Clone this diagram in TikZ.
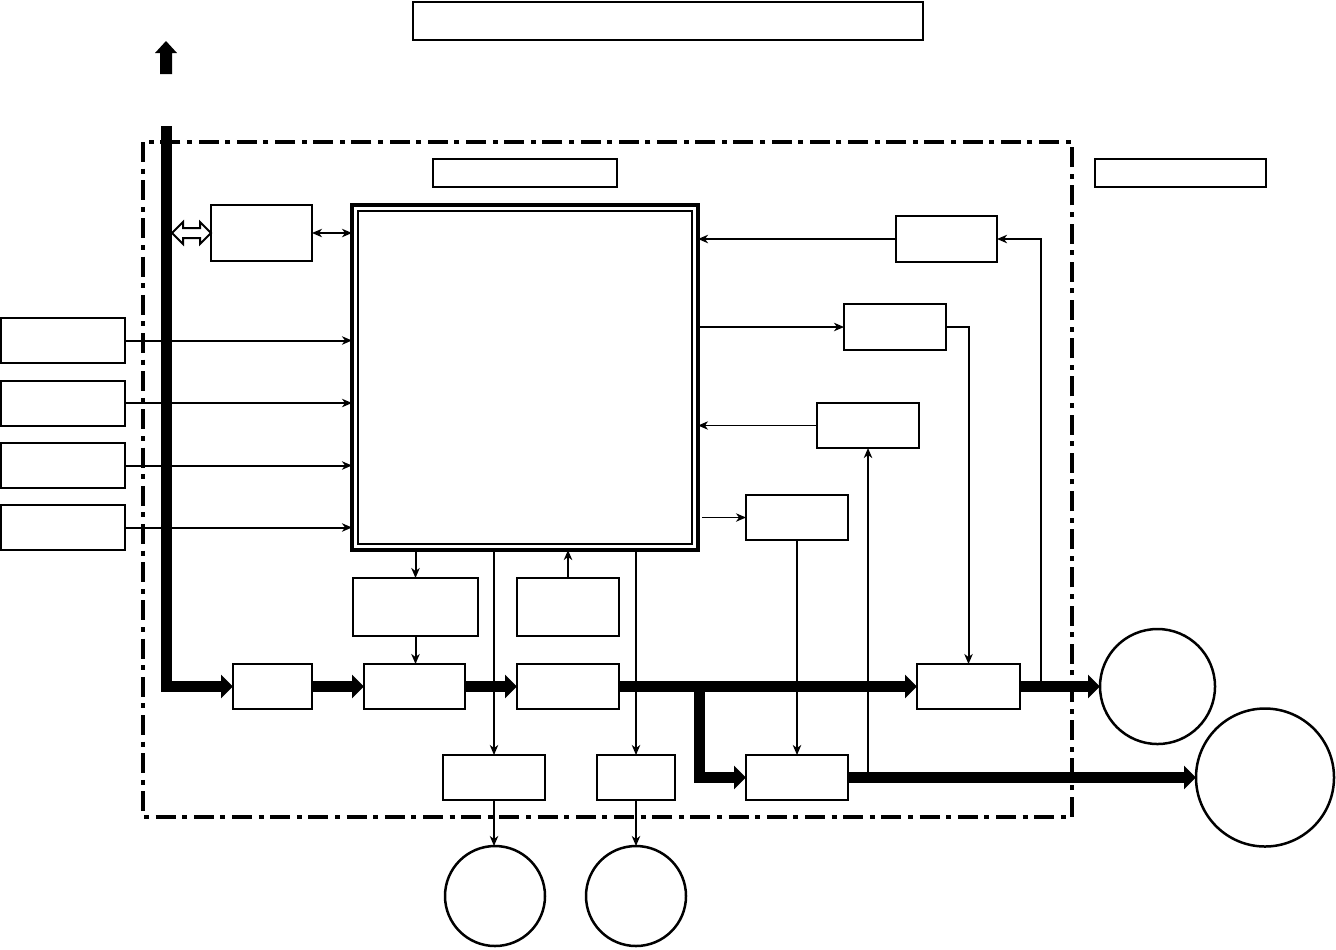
\documentclass[tikz,border=0pt]{standalone}
\usetikzlibrary{arrows.meta}
\begin{document}
\begin{tikzpicture}[x=0.5pt,y=-0.5pt,
  box/.style={draw,line width=1pt,inner sep=0pt,outer sep=0pt,fill=white},
  circ/.style={draw,circle,line width=1.25pt,inner sep=0pt,outer sep=0pt},
  thinarrow/.style={line width=1pt,-{Stealth[length=5pt,width=4.2pt,inset=1.5pt]}},
  hairarrow/.style={line width=0.6pt,-{Stealth[length=5pt,width=4.2pt,inset=1.5pt]}},
  thickarrow/.style={line width=5.5pt,line join=miter,-{Triangle[length=6pt,width=11.5pt]}},
  frame/.style={line width=1.6pt,dash pattern=on 10pt off 3.3pt on 2.5pt off 3.3pt}
]
\useasboundingbox (0,0) rectangle (1336,949);

% dash-dot frame
\draw[frame] (143,142) rectangle (1072,817);

% top and label boxes
\node[box,minimum width=255pt,minimum height=19pt] (top) at (668,21) {};
\node[box,minimum width=92pt,minimum height=14pt] (lab1) at (525,173) {};
\node[box,minimum width=85.5pt,minimum height=14pt] (lab2) at (1180.5,173) {};

% main block
\node[box,line width=2pt,minimum width=173pt,minimum height=172.5pt] (main) at (525,377.5) {};
\node[draw,line width=0.75pt,inner sep=0pt,minimum width=167pt,minimum height=166.5pt] (maininner) at (525,377.5) {};

% other boxes
\node[box,minimum width=50.5pt,minimum height=28pt] (A) at (261.5,233) {};
\node[box,minimum width=62pt,minimum height=22.5pt] (L1) at (63,340.5) {};
\node[box,minimum width=62pt,minimum height=22.5pt] (L2) at (63,403) {};
\node[box,minimum width=62pt,minimum height=22.5pt] (L3) at (63,465.5) {};
\node[box,minimum width=62pt,minimum height=22.5pt] (L4) at (63,527.5) {};
\node[box,minimum width=50.5pt,minimum height=23pt] (R1) at (946.5,239) {};
\node[box,minimum width=51pt,minimum height=23pt] (R2) at (895,327) {};
\node[box,minimum width=51pt,minimum height=22.5pt] (R3) at (868,425.5) {};
\node[box,minimum width=51pt,minimum height=22.5pt] (R4) at (797,517.5) {};
\node[box,minimum width=62.5pt,minimum height=29pt] (C1) at (415.5,607) {};
\node[box,minimum width=51pt,minimum height=29pt] (C2) at (568,607) {};
\node[box,minimum width=39.5pt,minimum height=22.5pt] (M1) at (272.5,686.5) {};
\node[box,minimum width=50.5pt,minimum height=22.5pt] (M2) at (414.5,686.5) {};
\node[box,minimum width=51pt,minimum height=22.5pt] (M3) at (568,686.5) {};
\node[box,minimum width=51.5pt,minimum height=22.5pt] (O1) at (968.5,686.5) {};
\node[box,minimum width=51pt,minimum height=22.5pt] (B2) at (797,777.5) {};
\node[box,minimum width=51pt,minimum height=22.5pt] (D1) at (494,777.5) {};
\node[box,minimum width=39pt,minimum height=22.5pt] (D2) at (636,777.5) {};

% circles
\node[circ,minimum size=57.5pt] (K1) at (1157.5,686.5) {};
\node[circ,minimum size=69pt] (K2) at (1265,777.5) {};
\node[circ,minimum size=50pt] (K3) at (495,896) {};
\node[circ,minimum size=50pt] (K4) at (636,896) {};

% coordinates
\coordinate (busTop) at (166,126);
\coordinate (busCorner) at (166,686.5);
\coordinate (branch) at (699,686.5);
\coordinate (branchCorner) at (699,777.5);
\coordinate (tapO1) at (1041,686.5);
\coordinate (tapB2) at (868,777.5);

% up arrow (filled)
\fill (160,74) -- (160,53) -- (155,53) -- (166,41) -- (177,53) -- (172,53) -- (172,74) -- cycle;

% bus and thick chain
\draw[thickarrow] (busTop) -- (busCorner) -- (M1.west);
\draw[thickarrow] (M1.east) -- (M2.west);
\draw[thickarrow] (M2.east) -- (M3.west);
\draw[thickarrow] (M3.east) -- (O1.west);
\draw[thickarrow] (O1.east) -- (K1.west);
\draw[thickarrow] (branch) -- (branchCorner) -- (B2.west);
\draw[thickarrow] (B2.east) -- (K2.west);

% hollow double arrow bus <-> A
\draw[line width=1pt,fill=white,line join=miter]
  (172,233) -- (183,222) -- (183,228) -- (200,228) -- (200,222) -- (A.west)
  -- (200,244) -- (200,238) -- (183,238) -- (183,244) -- cycle;

% A <-> main
\draw[line width=0.7pt,{Stealth[length=5pt,width=4.2pt,inset=1.5pt]}-{Stealth[length=5pt,width=4.2pt,inset=1.5pt]}] (A.east) -- (A.east -| main.west);

% left inputs
\draw[thinarrow] (L1.east) -- (L1.east -| main.west);
\draw[hairarrow] (L2.east) -- (L2.east -| main.west);
\draw[thinarrow] (L3.east) -- (L3.east -| main.west);
\draw[thinarrow] (L4.east) -- (L4.east -| main.west);

% right side
\draw[thinarrow] (R1.west) -- (R1.west -| main.east);
\draw[thinarrow] (R2.west -| main.east) -- (R2.west);
\draw[thinarrow] (R2.east) -| (O1.north);
\draw[hairarrow] (R3.west) -- (R3.west -| main.east);
\draw[thinarrow] (tapB2) -- (R3.south);
\draw[hairarrow] ([xshift=2pt]R4.west -| main.east) -- (R4.west);
\draw[thinarrow] (R4.south) -- (B2.north);
\draw[thinarrow] (tapO1) |- (R1.east);

% below main
\draw[thinarrow] (C1.north |- main.south) -- (C1.north);
\draw[thinarrow] (C1.south) -- (C1.south |- M2.north);
\draw[thinarrow] (C2.north) -- (C2.north |- main.south);
\draw[hairarrow] (D1.north |- main.south) -- (D1.north);
\draw[hairarrow] (D2.north |- main.south) -- (D2.north);
\draw[hairarrow] (D1.south) -- (D1.south |- K3.north);
\draw[hairarrow] (D2.south) -- (K4.north);
\end{tikzpicture}
\end{document}
